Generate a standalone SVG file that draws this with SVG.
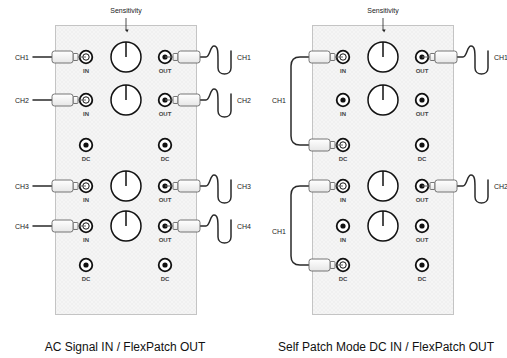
<svg xmlns="http://www.w3.org/2000/svg" xmlns:xlink="http://www.w3.org/1999/xlink" width="507" height="358" viewBox="0 0 507 358">
<style>
text{font-family:"Liberation Sans",Arial,sans-serif;fill:#222}
.lbl{font-size:6px;font-weight:bold;fill:#444;text-anchor:middle}
.ch{font-size:7px}
.cap{font-size:12px;text-anchor:middle;fill:#111}
.panel{fill:url(#hatch);stroke:#c4c4c4;stroke-width:1}
.ring{fill:#fff;stroke:#111;stroke-width:1.8}
.dot{fill:#111}
.knob{fill:#fff;stroke:#111;stroke-width:1.5}
.cable{fill:none;stroke:#2a2a2a;stroke-width:1.5;stroke-linecap:round;stroke-linejoin:round}
.pbody{fill:url(#pg);stroke:#666;stroke-width:0.9}
.tip{stroke:#666;stroke-width:1;fill:none}
</style>
<defs>
<pattern id="hatch" width="4" height="4" patternUnits="userSpaceOnUse">
<rect width="4" height="4" fill="#f5f5f5"/>
<path d="M0,4 L4,0 M0,0 L4,4" stroke="#ebebeb" stroke-width="0.5"/>
</pattern>
<linearGradient id="pg" x1="0" y1="0" x2="0" y2="1">
<stop offset="0" stop-color="#ffffff"/>
<stop offset="1" stop-color="#e6e6e6"/>
</linearGradient>
<marker id="arr" viewBox="0 0 6 6" refX="3" refY="5" markerWidth="4" markerHeight="4" orient="auto-start-reverse">
<path d="M0,0 L6,0 L3,6 z" fill="#222" transform="rotate(-90 3 3)"/>
</marker>
<g id="jack"><circle class="ring" r="6.3"/><circle class="dot" r="2.6"/></g>
<g id="jackPlugged"><circle class="ring" r="6.3"/><circle r="3.2" fill="#fff" stroke="#111" stroke-width="1"/></g>
<g id="knob"><circle class="knob" r="15"/><line x1="0" y1="0" x2="0" y2="-15" stroke="#111" stroke-width="1.5"/></g>
<g id="plugL"><line class="tip" x1="-13" y1="0" x2="0" y2="0"/><rect class="pbody" x="-13" y="-3.5" width="5" height="7" rx="1"/><rect class="pbody" x="-34" y="-6" width="21" height="12" rx="2.5"/></g>
<g id="plugR"><line class="tip" x1="0" y1="0" x2="13" y2="0"/><rect class="pbody" x="8" y="-3.5" width="5" height="7" rx="1"/><rect class="pbody" x="13" y="-6" width="22" height="12" rx="2.5"/></g>
</defs>
<rect width="507" height="358" fill="#fff"/>

<g id="panel-left">
<rect class="panel" x="55.5" y="25.5" width="141" height="289"/>
</g>
<g id="panel-right">
<rect class="panel" x="312.5" y="25.5" width="141" height="289"/>
</g>

<g id="connectors">
<line x1="126" y1="18" x2="126" y2="31" stroke="#222" stroke-width="0.8" marker-end="url(#arr)"/>
<line x1="383" y1="18" x2="383" y2="31" stroke="#222" stroke-width="0.8" marker-end="url(#arr)"/>
<path class="cable" d="M33,57 H52"/>
<path class="cable" d="M33,100 H52"/>
<path class="cable" d="M33,186 H52"/>
<path class="cable" d="M33,226 H52"/>
<path class="cable" d="M200,57 H206 C210,57 210,46 214,46 C218,46 218,52 218,60 V68 C218,76 231,76 231,68 V51"/>
<path class="cable" d="M200,100 H206 C210,100 210,89 214,89 C218,89 218,95 218,103 V111 C218,119 231,119 231,111 V94"/>
<path class="cable" d="M200,186 H206 C210,186 210,175 214,175 C218,175 218,181 218,189 V197 C218,205 231,205 231,197 V180"/>
<path class="cable" d="M200,226 H206 C210,226 210,215 214,215 C218,215 218,221 218,229 V237 C218,245 231,245 231,237 V220"/>
<path class="cable" d="M457,57 H463 C467,57 467,46 471,46 C475,46 475,52 475,60 V68 C475,76 488,76 488,68 V51"/>
<path class="cable" d="M457,186 H463 C467,186 467,175 471,175 C475,175 475,181 475,189 V197 C475,205 488,205 488,197 V180"/>
<path class="cable" d="M309,57 H300 Q291,57 291,66 V136 Q291,145 300,145 H309"/>
<path class="cable" d="M309,186 H300 Q291,186 291,195 V256 Q291,265 300,265 H309"/>
</g>

<g id="left-module">
<text x="126" y="13" class="ch" text-anchor="middle" font-size="6.5">Sensitivity</text>
<g id="L-row1"><use xlink:href="#knob" x="126" y="57"/><use xlink:href="#jackPlugged" x="86" y="57"/><use xlink:href="#plugL" x="86" y="57"/><use xlink:href="#jack" x="165" y="57"/><use xlink:href="#plugR" x="165" y="57"/><text class="lbl" x="86" y="73">IN</text><text class="lbl" x="165" y="73">OUT</text></g>
<g id="L-row2"><use xlink:href="#knob" x="126" y="100"/><use xlink:href="#jackPlugged" x="86" y="100"/><use xlink:href="#plugL" x="86" y="100"/><use xlink:href="#jack" x="165" y="100"/><use xlink:href="#plugR" x="165" y="100"/><text class="lbl" x="86" y="116">IN</text><text class="lbl" x="165" y="116">OUT</text></g>
<g id="L-dc1"><use xlink:href="#jack" x="86" y="145"/><use xlink:href="#jack" x="165" y="145"/><text class="lbl" x="86" y="161">DC</text><text class="lbl" x="165" y="161">DC</text></g>
<g id="L-row3"><use xlink:href="#knob" x="126" y="186"/><use xlink:href="#jackPlugged" x="86" y="186"/><use xlink:href="#plugL" x="86" y="186"/><use xlink:href="#jack" x="165" y="186"/><use xlink:href="#plugR" x="165" y="186"/><text class="lbl" x="86" y="202">IN</text><text class="lbl" x="165" y="202">OUT</text></g>
<g id="L-row4"><use xlink:href="#knob" x="126" y="226"/><use xlink:href="#jackPlugged" x="86" y="226"/><use xlink:href="#plugL" x="86" y="226"/><use xlink:href="#jack" x="165" y="226"/><use xlink:href="#plugR" x="165" y="226"/><text class="lbl" x="86" y="242">IN</text><text class="lbl" x="165" y="242">OUT</text></g>
<g id="L-dc2"><use xlink:href="#jack" x="86" y="265"/><use xlink:href="#jack" x="165" y="265"/><text class="lbl" x="86" y="281">DC</text><text class="lbl" x="165" y="281">DC</text></g>
<text class="ch" x="15" y="59.5">CH1</text>
<text class="ch" x="15" y="102.5">CH2</text>
<text class="ch" x="15" y="188.5">CH3</text>
<text class="ch" x="15" y="228.5">CH4</text>
<text class="ch" x="237" y="59.5">CH1</text>
<text class="ch" x="237" y="102.5">CH2</text>
<text class="ch" x="237" y="188.5">CH3</text>
<text class="ch" x="237" y="228.5">CH4</text>
<text class="cap" x="125" y="351">AC Signal IN / FlexPatch OUT</text>
</g>

<g id="right-module">
<text x="383" y="13" class="ch" text-anchor="middle" font-size="6.5">Sensitivity</text>
<g id="R-row1"><use xlink:href="#knob" x="383" y="57"/><use xlink:href="#jackPlugged" x="343" y="57"/><use xlink:href="#plugL" x="343" y="57"/><use xlink:href="#jack" x="422" y="57"/><use xlink:href="#plugR" x="422" y="57"/><text class="lbl" x="343" y="73">IN</text><text class="lbl" x="422" y="73">OUT</text></g>
<g id="R-row2"><use xlink:href="#knob" x="383" y="100"/><use xlink:href="#jack" x="343" y="100"/><use xlink:href="#jack" x="422" y="100"/><text class="lbl" x="343" y="116">IN</text><text class="lbl" x="422" y="116">OUT</text></g>
<g id="R-dc1"><use xlink:href="#jackPlugged" x="343" y="145"/><use xlink:href="#plugL" x="343" y="145"/><use xlink:href="#jack" x="422" y="145"/><text class="lbl" x="343" y="161">DC</text><text class="lbl" x="422" y="161">DC</text></g>
<g id="R-row3"><use xlink:href="#knob" x="383" y="186"/><use xlink:href="#jackPlugged" x="343" y="186"/><use xlink:href="#plugL" x="343" y="186"/><use xlink:href="#jack" x="422" y="186"/><use xlink:href="#plugR" x="422" y="186"/><text class="lbl" x="343" y="202">IN</text><text class="lbl" x="422" y="202">OUT</text></g>
<g id="R-row4"><use xlink:href="#knob" x="383" y="226"/><use xlink:href="#jack" x="343" y="226"/><use xlink:href="#jack" x="422" y="226"/><text class="lbl" x="343" y="242">IN</text><text class="lbl" x="422" y="242">OUT</text></g>
<g id="R-dc2"><use xlink:href="#jackPlugged" x="343" y="265"/><use xlink:href="#plugL" x="343" y="265"/><use xlink:href="#jack" x="422" y="265"/><text class="lbl" x="343" y="281">DC</text><text class="lbl" x="422" y="281">DC</text></g>
<text class="ch" x="272" y="103">CH1</text>
<text class="ch" x="272" y="234">CH1</text>
<text class="ch" x="494" y="59.5">CH1</text>
<text class="ch" x="494" y="188.5">CH2</text>
<text class="cap" x="386" y="351">Self Patch Mode DC IN / FlexPatch OUT</text>
</g>
</svg>
